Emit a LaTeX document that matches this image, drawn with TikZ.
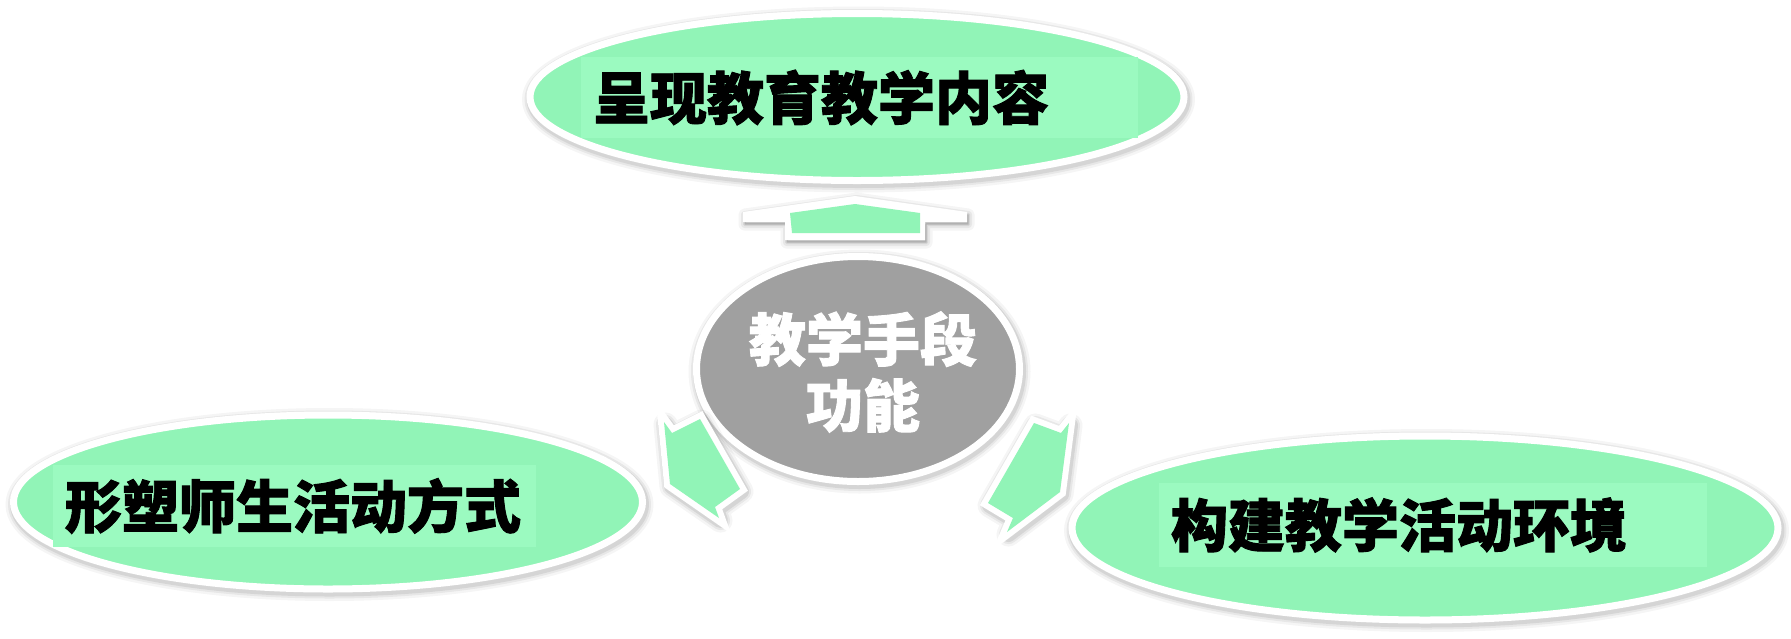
\documentclass[tikz,border=0pt]{standalone}
\usepackage{fontspec}
\newfontfamily\cjk{Noto Sans CJK SC}[BoldFeatures={FakeBold=1.6}]
\usetikzlibrary{shapes.geometric}
\definecolor{mint}{RGB}{145,244,183}
\definecolor{mintlight}{RGB}{155,250,192}
\definecolor{midgray}{RGB}{160,160,160}
\tikzset{
  halo/.style={
    preaction={draw=black,fill=black,opacity=0.04,line join=round,line width=#1+12pt,transform canvas={shift={(1.5pt,-2.5pt)}}},
    preaction={draw=black,fill=black,opacity=0.06,line join=round,line width=#1+7pt,transform canvas={shift={(1.5pt,-2.5pt)}}},
    preaction={draw=black,fill=black,opacity=0.08,line join=round,line width=#1+3pt,transform canvas={shift={(1.5pt,-2.5pt)}}}},
  bubble/.style={ellipse,draw=white,line width=7pt,fill=mint,inner sep=0pt,halo=7pt},
  hub/.style={ellipse,draw=white,line width=7pt,fill=midgray,inner sep=0pt,halo=7pt},
  labelbox/.style={fill=mintlight,inner xsep=12pt,inner ysep=0pt,align=left,
     font=\cjk\bfseries\fontsize{57}{66}\selectfont,text=black},
  hubtext/.style={align=center,font=\cjk\bfseries\fontsize{57}{66}\selectfont,text=white,inner sep=0pt},
  blockarrow/.style={fill=mint,halo=12pt,
     preaction={draw=white,line width=12pt,line join=miter,miter limit=10}},
}
\begin{document}
\begin{tikzpicture}[x=1pt,y=-1pt]
\useasboundingbox (0,0) rectangle (1791,638);
% ellipses
\node[bubble,minimum width=654pt,minimum height=167pt] (top) at (857,97) {};
\node[hub,minimum width=323pt,minimum height=225pt] (hub) at (858,369) {};
\node[bubble,minimum width=629pt,minimum height=174pt] (left) at (328,502) {};
\node[bubble,minimum width=706pt,minimum height=184pt] (right) at (1425,528) {};
% labels
\node[labelbox,minimum height=81pt,text width=533pt] (toptext) at (859.5,97.5) {呈现教育教学内容};
\node[labelbox,minimum height=82pt,text width=459pt] (lefttext) at (294.5,506) {形塑师生活动方式};
\node[labelbox,minimum height=84pt,text width=524pt] (righttext) at (1433,525) {构建教学活动环境};
\node[hubtext] (hubtext) at (863,372) {教学手段\\功能};
% up arrow
\path[fill=white,halo=0pt] (855,196) -- (967,212) -- (967,222) -- (925,222) -- (925,240) -- (785,240) -- (785,222) -- (743,222) -- (743,212) -- cycle;
\fill[mint] (855,204) -- (920,213) -- (920,233) -- (792,233) -- (790,213) -- cycle;
% left arrow
\path[blockarrow] (664,422) -- (672,433) -- (700,419) -- (740,489) -- (715,507) -- (719,518) -- (670,484) -- cycle;
% right arrow
\path[blockarrow] (1069,423) -- (1061,433) -- (1034,423) -- (988,503) -- (1013,518) -- (1007,532) -- (1060,492) -- cycle;
\end{tikzpicture}
\end{document}
